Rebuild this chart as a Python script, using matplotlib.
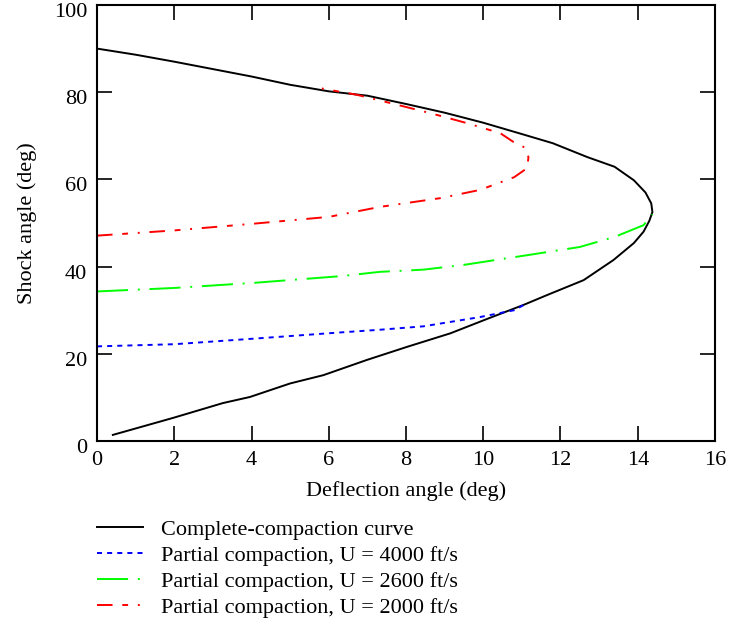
import matplotlib
matplotlib.use("Agg")
import matplotlib.pyplot as plt
import matplotlib.transforms as mtransforms
import numpy as np

# complete-compaction curve (upper branch -> nose -> lower branch)
complete_x = [0, 1, 2, 3, 4, 5, 6, 7, 8, 9, 10, 11, 11.8, 12.7, 13.4, 13.9, 14.2, 14.35,
              14.38, 14.3, 14.15, 13.9, 13.37, 12.6, 11.66, 11.04, 10.1, 9.15, 8.03, 6.99,
              5.86, 5.0, 3.96, 3.26, 1.97, 0.41]
complete_y = [90, 88.6, 87, 85.3, 83.6, 81.7, 80.2, 79.2, 77.3, 75.3, 73, 70.4, 68.3, 65.1,
              62.9, 59.8, 57, 54.5, 52.5, 50.5, 48, 45.4, 41.5, 36.9, 33.5, 31.2, 28, 24.7,
              21.6, 18.6, 15.1, 13.2, 10.1, 8.7, 5.3, 1.4]

u4000_x = [0, 2, 4.1, 6.3, 7.3, 8.45, 9.9, 10.8, 11.05]
u4000_y = [21.7, 22.2, 23.5, 24.9, 25.5, 26.3, 28.4, 30.0, 31.2]

u2600_x = [0, 2, 4.1, 6.3, 7.33, 8.45, 9.5, 11.2, 12.5, 13.4, 14.15, 14.38]
u2600_y = [34.3, 35.1, 36.3, 37.8, 38.8, 39.3, 40.4, 42.7, 44.5, 46.8, 49.5, 52]

u2000_x = [0, 2, 4, 6, 7.33, 8.89, 9.92, 10.8, 11.14, 11.17, 11.1, 10.78, 10.44, 9.58,
           8.63, 7.6, 6.73, 5.73]
u2000_y = [47.1, 48.3, 49.8, 51.4, 53.7, 55.7, 57.6, 60.5, 62.6, 65.1, 67.2, 68.6, 70.6,
           72.9, 75.2, 77.5, 79.4, 81]

labels = ["Complete-compaction curve",
          "Partial compaction, U = 4000 ft/s",
          "Partial compaction, U = 2600 ft/s",
          "Partial compaction, U = 2000 ft/s"]

plt.rcParams["font.family"] = ["Liberation Serif", "DejaVu Serif"]
plt.rcParams["font.size"] = 16

fig = plt.figure(figsize=(7.44, 6.25), dpi=100)
ax = fig.add_axes([0.1304, 0.2944, 0.8306, 0.6976])

lw = 1.4
ax.plot(complete_x, complete_y, color="black", lw=lw, label=labels[0])
ax.plot(u4000_x, u4000_y, color="blue", lw=lw, linestyle=(0, (2.6, 2.6)), label=labels[1])
ax.plot(u2600_x, u2600_y, color="#00ff00", lw=lw, linestyle=(0, (16, 5, 1, 5)), label=labels[2])
ax.plot(u2000_x, u2000_y, color="red", lw=lw, linestyle=(0, (8, 5, 3, 5, 1, 5)), label=labels[3])

ax.set_xlim(0, 16)
ax.set_ylim(0, 100)
ax.set_xticks(np.arange(0, 17, 2))
ax.set_yticks(np.arange(0, 101, 20))
ax.tick_params(direction="in", length=11, width=1.2, top=True, right=True, pad=7)
for s in ax.spines.values():
    s.set_linewidth(1.5)

# y tick labels sit a little below their ticks in the original
shift = mtransforms.ScaledTranslation(0, -0.05, fig.dpi_scale_trans)
for lab in ax.get_yticklabels():
    lab.set_transform(lab.get_transform() + shift)

ax.set_xlabel("Deflection angle (deg)", labelpad=8)
ax.set_ylabel("Shock angle (deg)", labelpad=12)

fig.legend(loc="upper left", bbox_to_anchor=(0.118, 0.183), frameon=False,
           handlelength=2.1, handletextpad=0.8, labelspacing=0.24, borderaxespad=0)

fig.savefig("out.png", dpi=100)
